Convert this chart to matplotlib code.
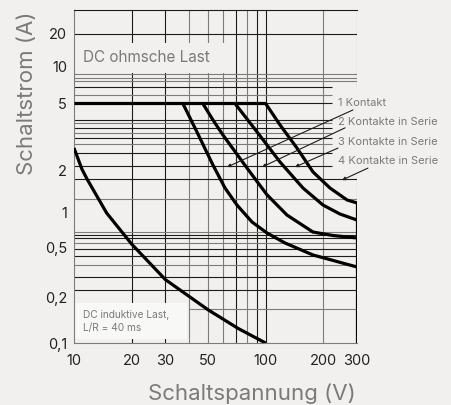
import numpy as np
import matplotlib
matplotlib.use('Agg')
import matplotlib.pyplot as plt
from matplotlib.patches import Rectangle
from matplotlib.ticker import NullLocator

plt.rcParams['font.family'] = ['Inter', 'DejaVu Sans']

# ---------------- data ----------------
x_ticks = [10, 20, 30, 50, 100, 200, 300]
x_tick_labels = ['10', '20', '30', '50', '100', '200', '300']
y_ticks = [0.1, 0.2, 0.5, 1, 2, 5, 10, 20]
y_tick_labels = ['0,1', '0,2', '0,5', '1', '2', '5', '10', '20']

plateau_v = [10, 100]
plateau_a = [5, 5]

c1_v = [37, 43.8, 53.1, 61.4, 70.9, 84.9, 101.7, 126.3, 176.7, 300]
c1_a = [5, 3.40, 2.17, 1.51, 1.14, 0.837, 0.673, 0.552, 0.44, 0.353]

c2_v = [47, 53.1, 59.9, 80, 101.7, 129.3, 176.7, 224.8, 300]
c2_a = [5, 4.0, 3.26, 2.08, 1.35, 0.96, 0.686, 0.64, 0.61]

c3_v = [69.2, 90.2, 118.9, 156.7, 199.4, 244.4, 300]
c3_a = [5, 3.40, 2.26, 1.51, 1.14, 0.98, 0.87]

c4_v = [100, 118.9, 145.8, 176.7, 216.8, 266, 300]
c4_a = [5, 3.74, 2.73, 1.97, 1.51, 1.24, 1.18]

limit_v = [300, 300]
limit_a = [0.1, 1.18]

ind_v = [10, 11, 11.7, 14.8, 20, 30, 50, 72, 100]
ind_a = [2.73, 2.05, 1.75, 1.0, 0.54, 0.28, 0.167, 0.125, 0.1]

series_labels = ['1 Kontakt', '2 Kontakte in Serie',
                 '3 Kontakte in Serie', '4 Kontakte in Serie']
label_v = [239, 239, 239, 239]
label_a = [5.05, 3.89, 2.96, 2.29]
leader_from_v = [285.9, 259.7, 238.7, 342.2]
leader_from_a = [4.58, 3.59, 2.73, 2.08]
leader_to_v = [62.9, 95.8, 142.4, 250.4]
leader_to_a = [2.11, 2.11, 2.11, 1.72]

# grid lines
vgrid_v = [20, 30, 40, 50, 60, 70, 80, 90, 100, 200]
vgrid_dark = [True, True, False, False, False, True, False, True, True, False]
hgrid_short_a = [6.84, 5.87, 5.0, 4.0, 3.81, 3.59, 3.35, 3.13, 2.87, 2.54, 2.14]
hgrid_short_dark = [True, False, True, True, False, True, False, True, False, True, True]
hgrid_long_a = [20, 8.75, 8.16, 7.66, 1.75, 1.26, 0.686, 0.647, 0.604, 0.552,
                0.491, 0.432, 0.366, 0.294, 0.232]
hgrid_long_dark = [True, False, False, False, True, False, False, True, True, False,
                   True, True, False, True, True]
hgrid_part_a = [0.169]

# ---------------- scale (piecewise log, as in the original print) ----------------
scale_a = np.array([0.001, 0.1, 0.2, 0.5, 1, 2, 5, 10, 20, 1000])
scale_h = np.array([-299, 0, 45, 95, 130, 172, 239.5, 276, 309, 495])
scale_la = np.log10(scale_a)


def fwd(a):
    a = np.asarray(a, dtype=float)
    with np.errstate(divide='ignore', invalid='ignore'):
        la = np.log10(np.where(a > 0, a, 1e-9))
    return np.interp(la, scale_la, scale_h)


def inv(h):
    h = np.asarray(h, dtype=float)
    return 10 ** np.interp(h, scale_h, scale_la)


BG = '#f1f0ee'
DARK = '#1c1c1c'
GRAY = '#7c7c7c'
TXT = '#7a7a7a'

fig = plt.figure(figsize=(4.51, 4.05), dpi=100, facecolor=BG)
ax = fig.add_axes([74 / 451, 62 / 405, 283 / 451, 333 / 405])
ax.set_facecolor(BG)
ax.set_xscale('log')
ax.set_yscale('function', functions=(fwd, inv))
ax.set_xlim(10, 300)
ax.set_ylim(0.1, 33.1)

gl = 0.8
# vertical grid
for v, d in zip(vgrid_v, vgrid_dark):
    ax.plot([v, v], [0.1, 33.1], color=DARK if d else GRAY, lw=gl, zorder=1,
            solid_capstyle='butt')
# right border (partial)
ax.plot([300, 300], [6.84, 33.1], color=GRAY, lw=gl, zorder=1)
ax.plot([300, 300], [0.1, 1.81], color=GRAY, lw=gl, zorder=1)
# horizontal grid
for a, d in zip(hgrid_short_a, hgrid_short_dark):
    ax.plot([10, 222], [a, a], color=DARK if d else GRAY, lw=gl, zorder=1,
            solid_capstyle='butt')
for a, d in zip(hgrid_long_a, hgrid_long_dark):
    ax.plot([10, 300], [a, a], color=DARK if d else GRAY, lw=gl, zorder=1,
            solid_capstyle='butt')
for a in hgrid_part_a:
    ax.plot([40, 300], [a, a], color=GRAY, lw=gl, zorder=1)

# boxes hiding grid
ax.add_patch(Rectangle((10, 8.85), 63.7 - 10, 16.6 - 8.85, facecolor=BG,
                       edgecolor='none', zorder=2))
ax.add_patch(Rectangle((10, 0.1063), 38.9 - 10, 0.185 - 0.1063, facecolor='#f8f8f7',
                       edgecolor='none', zorder=2))

ax.text(11.1, 12.1, 'DC ohmsche Last', color=TXT, fontsize=11, va='center',
        ha='left', zorder=3)
ax.text(11.1, 0.154, 'DC induktive Last,', color=TXT, fontsize=7.3, va='center',
        ha='left', zorder=3)
ax.text(11.1, 0.126, 'L/R = 40 ms', color=TXT, fontsize=7.3, va='center',
        ha='left', zorder=3)

# curves
lw = 2.3
kw = dict(color='black', lw=lw, zorder=4, solid_capstyle='butt', solid_joinstyle='round')
ax.plot(plateau_v, plateau_a, **kw)
for cv, ca in [(c1_v, c1_a), (c2_v, c2_a), (c3_v, c3_a), (c4_v, c4_a)]:
    ax.plot(cv, ca, **kw)
ax.plot(limit_v, limit_a, **kw)
ax.plot(ind_v, ind_a, **kw)

# labels and leaders
for lab, lv, la, fv, fa, tv, ta in zip(series_labels, label_v, label_a,
                                       leader_from_v, leader_from_a,
                                       leader_to_v, leader_to_a):
    ax.text(lv, la, lab, color=TXT, fontsize=8, ha='left', va='center',
            clip_on=False, zorder=5)
    ax.annotate('', xy=(tv, ta), xytext=(fv, fa),
                arrowprops=dict(arrowstyle='-|>', lw=0.8, color=DARK,
                                mutation_scale=5, shrinkA=0, shrinkB=0),
                annotation_clip=False, zorder=5)

# axes styling
ax.spines['right'].set_visible(False)
ax.spines['top'].set_color(DARK)
ax.spines['left'].set_color(GRAY)
ax.spines['bottom'].set_color(GRAY)
for s in ['top', 'left', 'bottom']:
    ax.spines[s].set_linewidth(gl)

ax.set_xticks(x_ticks)
ax.set_xticklabels(x_tick_labels)
ax.xaxis.set_minor_locator(NullLocator())
ax.set_yticks(y_ticks)
ax.set_yticklabels(y_tick_labels)
ax.yaxis.set_minor_locator(NullLocator())
ax.tick_params(axis='both', length=0, labelsize=10.5, colors='#222222')
ax.tick_params(axis='x', pad=8)
ax.tick_params(axis='y', pad=5)

fig.text(252 / 451, 1 - 394 / 405, 'Schaltspannung (V)', color=TXT, fontsize=16,
         ha='center', va='center')
fig.text(27 / 451, 1 - 93 / 405, 'Schaltstrom (A)', color=TXT, fontsize=16,
         ha='center', va='center', rotation=90)

fig.savefig('out.png', dpi=100, facecolor=BG)
